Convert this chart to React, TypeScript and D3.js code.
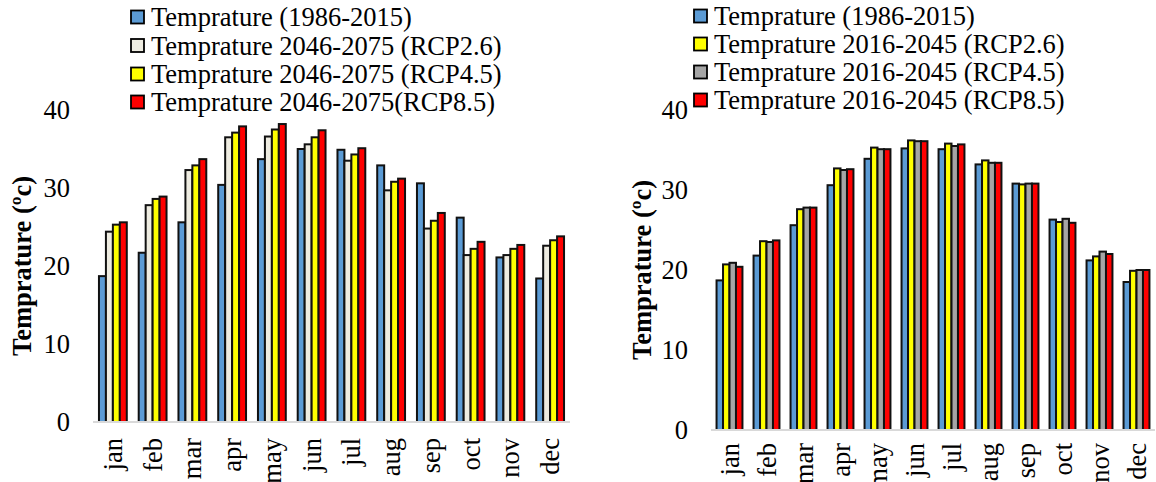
import React from "react";
import * as d3 from "d3";

const months = ["jan", "feb", "mar", "apr", "may", "jun", "jul", "aug", "sep", "oct", "nov", "dec"];
const yTicks = [0, 10, 20, 30, 40];

// Left chart
const leftBase = [18.7, 21.7, 25.6, 30.4, 33.7, 35.0, 34.9, 32.9, 30.6, 26.2, 21.1, 18.4];
const leftRcp26 = [24.4, 27.8, 32.3, 36.5, 36.6, 35.6, 33.5, 29.7, 24.8, 21.4, 21.4, 22.6];
const leftRcp45 = [25.3, 28.6, 32.9, 37.1, 37.5, 36.5, 34.3, 30.8, 25.8, 22.2, 22.2, 23.3];
const leftRcp85 = [25.6, 28.9, 33.7, 37.9, 38.2, 37.4, 35.1, 31.2, 26.8, 23.1, 22.7, 23.8];
const leftNames = [
  "Temprature (1986-2015)",
  "Temprature 2046-2075 (RCP2.6)",
  "Temprature 2046-2075 (RCP4.5)",
  "Temprature 2046-2075(RCP8.5)",
];
const leftColors = ["#5B9BD5", "#EEECE1", "#FFFF00", "#FF0000"];

// Right chart
const rightBase = [18.7, 21.8, 25.6, 30.6, 33.9, 35.2, 35.1, 33.2, 30.8, 26.3, 21.2, 18.5];
const rightRcp26 = [20.7, 23.6, 27.6, 32.7, 35.3, 36.2, 35.8, 33.7, 30.7, 26.0, 21.7, 19.9];
const rightRcp45 = [20.9, 23.5, 27.8, 32.5, 35.1, 36.1, 35.5, 33.4, 30.8, 26.4, 22.3, 20.0];
const rightRcp85 = [20.4, 23.7, 27.8, 32.6, 35.1, 36.1, 35.7, 33.4, 30.8, 25.9, 22.0, 20.0];
const rightNames = [
  "Temprature (1986-2015)",
  "Temprature 2016-2045 (RCP2.6)",
  "Temprature 2016-2045 (RCP4.5)",
  "Temprature 2016-2045 (RCP8.5)",
];
const rightColors = ["#5B9BD5", "#FFFF00", "#A5A5A5", "#FF0000"];

const FONT = "'Liberation Serif', 'Times New Roman', serif";

type PanelProps = {
  series: number[][];
  names: string[];
  colors: string[];
  x0: number;
  x1: number;
  yBottom: number;
  yTop: number;
  tickX: number;
  titleX: number;
  legendX: number;
  legendY: number[];
  labelTop: number;
};

function Panel(p: PanelProps) {
  const x = d3.scaleBand<string>().domain(months).range([p.x0, p.x1]).paddingInner(0.3).paddingOuter(0.15);
  const xs = d3
    .scaleBand<number>()
    .domain(d3.range(p.series.length))
    .range([0, x.bandwidth()])
    .padding(0);
  const y = d3.scaleLinear().domain([0, 40]).range([p.yBottom, p.yTop]);
  return (
    <g>
      {/* legend */}
      {p.names.map((n, i) => (
        <g key={n}>
          <rect
            x={p.legendX}
            y={p.legendY[i] - 6.5}
            width={13}
            height={13}
            fill={p.colors[i]}
            stroke="#000"
            strokeWidth={1.8}
          />
          <text
            x={p.legendX + 20}
            y={p.legendY[i]}
            dominantBaseline="central"
            fontFamily={FONT}
            fontSize={26.5}
            fill="#000"
          >
            {n}
          </text>
        </g>
      ))}
      {/* y tick labels */}
      {yTicks.map((t) => (
        <text
          key={t}
          x={p.tickX}
          y={y(t)}
          textAnchor="end"
          dominantBaseline="central"
          fontFamily={FONT}
          fontSize={26.5}
          fill="#000"
        >
          {t}
        </text>
      ))}
      {/* y title */}
      <text
        transform={`translate(${p.titleX},${(p.yBottom + p.yTop) / 2}) rotate(-90)`}
        textAnchor="middle"
        dominantBaseline="central"
        fontFamily={FONT}
        fontSize={26.5}
        fontWeight="bold"
        fill="#000"
      >
        Temprature (ºc)
      </text>
      {/* bars */}
      {months.map((m, mi) => (
        <g key={m}>
          {p.series.map((s, si) => (
            <rect
              key={si}
              x={(x(m) as number) + (xs(si) as number)}
              y={y(s[mi])}
              width={xs.bandwidth()}
              height={y(0) - y(s[mi])}
              fill={p.colors[si]}
              stroke="#111"
              strokeWidth={2}
            />
          ))}
        </g>
      ))}
      {/* axis line */}
      <line x1={p.x0} x2={p.x1} y1={y(0)} y2={y(0)} stroke="#D9D9D9" strokeWidth={2} />
      {/* month labels */}
      {months.map((m) => (
        <text
          key={m}
          transform={`translate(${(x(m) as number) + x.bandwidth() / 2},${p.labelTop}) rotate(-90)`}
          textAnchor="end"
          dominantBaseline="central"
          fontFamily={FONT}
          fontSize={26.5}
          fill="#000"
        >
          {m}
        </text>
      ))}
    </g>
  );
}

export default function App() {
  return (
    <svg
      width={1156}
      height={482}
      style={{ position: "absolute", left: 0, top: 0, background: "#fff" }}
    >
      <rect width={1156} height={482} fill="#fff" />
      <Panel
        series={[leftBase, leftRcp26, leftRcp45, leftRcp85]}
        names={leftNames}
        colors={leftColors}
        x0={93}
        x1={570}
        yBottom={422}
        yTop={110}
        tickX={70}
        titleX={22}
        legendX={131}
        legendY={[17, 45.5, 74, 102]}
        labelTop={438}
      />
      <Panel
        series={[rightBase, rightRcp26, rightRcp45, rightRcp85]}
        names={rightNames}
        colors={rightColors}
        x0={711}
        x1={1155}
        yBottom={430}
        yTop={110}
        tickX={688}
        titleX={642}
        legendX={694}
        legendY={[16, 44, 72, 100]}
        labelTop={443}
      />
    </svg>
  );
}
